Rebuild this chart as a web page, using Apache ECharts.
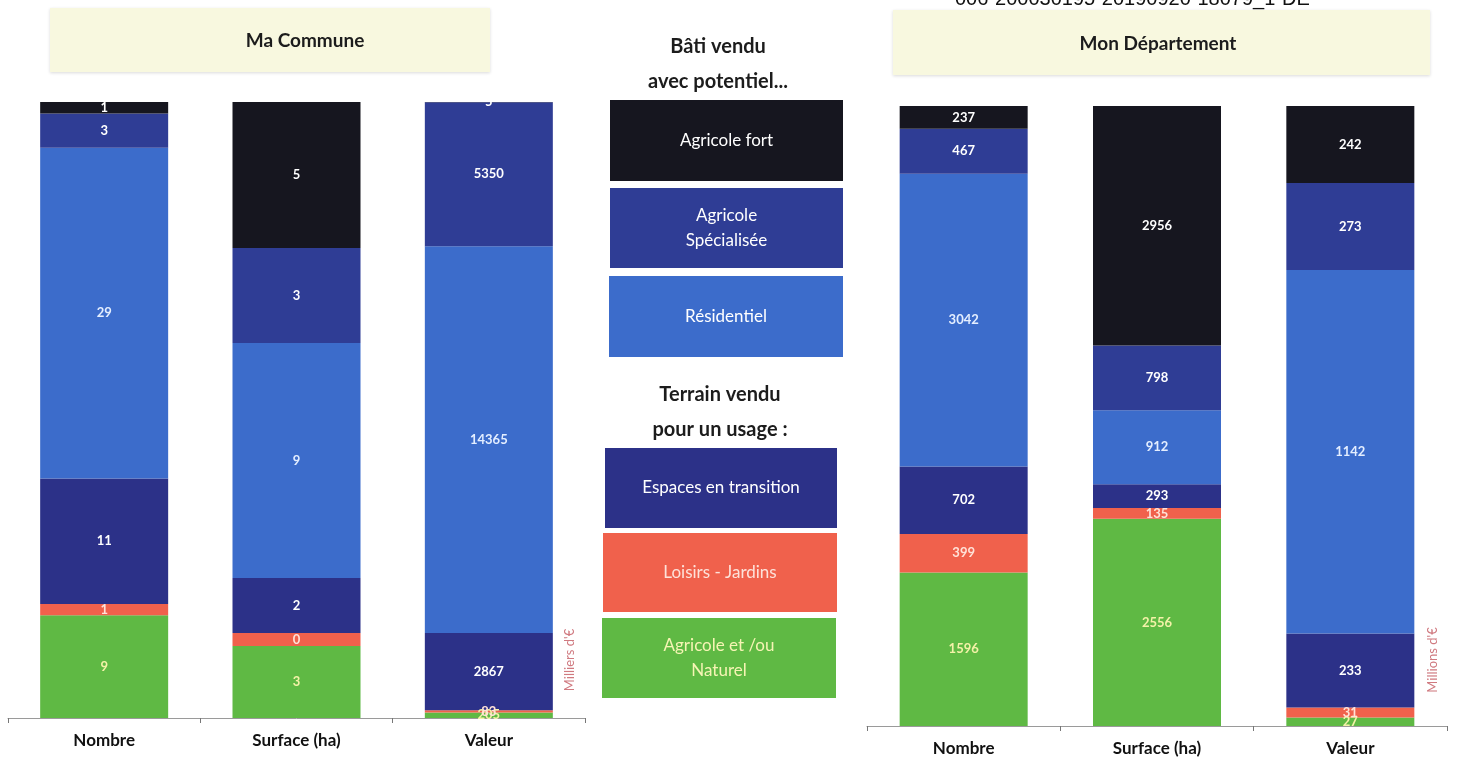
<!DOCTYPE html>
<html>
<head>
<meta charset="utf-8">
<script src="https://cdn.jsdelivr.net/npm/echarts@6/dist/echarts.min.js"></script>
<style>
html,body{margin:0;padding:0;background:#fff;}
#c{width:1457px;height:762px;}
</style>
</head>
<body>
<div id="c"></div>
<script>
// ---- Data ----
const categories = ['Nombre', 'Surface (ha)', 'Valeur'];
// stacking order bottom -> top
const seriesNames = ['Agricole et /ou Naturel', 'Loisirs - Jardins', 'Espaces en transition', 'Résidentiel', 'Agricole Spécialisée', 'Agricole fort'];
// Ma Commune: [Nombre, Surface (ha), Valeur (milliers d'€)]
const communeNaturel     = [9, 2.63, 205];
const communeLoisirs     = [1, 0.47, 83];
const communeTransition  = [11, 2.01, 2867];
const communeResidentiel = [29, 8.58, 14365];
const communeSpecialisee = [3, 3.47, 5350];
const communeFort        = [1, 5.33, 5];
// Mon Département: [Nombre, Surface (ha), Valeur (millions d'€)]
const deptNaturel     = [1596, 2556, 27];
const deptLoisirs     = [399, 135, 31];
const deptTransition  = [702, 293, 233];
const deptResidentiel = [3042, 912, 1142];
const deptSpecialisee = [467, 798, 273];
const deptFort        = [237, 2956, 242];

const communeSeries = [communeNaturel, communeLoisirs, communeTransition, communeResidentiel, communeSpecialisee, communeFort];
const deptSeries = [deptNaturel, deptLoisirs, deptTransition, deptResidentiel, deptSpecialisee, deptFort];

// ---- Styles ----
const colors = ['#5fb944', '#f0614c', '#2c3188', '#3c6ccb', '#2f3d95', '#16161f'];
const labelColors = ['#f4f2a8', '#ffe2d8', '#ffffff', '#e4eeff', '#ffffff', '#ffffff'];
const FONT = 'Lato, "Open Sans", sans-serif';

function totals(arr) {
  return categories.map((_, i) => arr.reduce((s, a) => s + a[i], 0));
}
function buildSeries(arr, axisIdx, stack) {
  const tot = totals(arr);
  return arr.map((vals, k) => ({
    name: seriesNames[k],
    type: 'bar',
    stack: stack,
    xAxisIndex: axisIdx,
    yAxisIndex: axisIdx,
    barWidth: 128,
    itemStyle: { color: colors[k] },
    label: {
      show: true,
      position: 'inside',
      color: labelColors[k],
      fontFamily: FONT,
      fontWeight: 'bold',
      fontSize: 13,
      formatter: p => String(Math.round(vals[p.dataIndex]))
    },
    data: vals.map((v, i) => v / tot[i] * 100)
  }));
}

const chart = echarts.init(document.getElementById('c'), null, { renderer: 'canvas' });

function catAxis(gridIndex) {
  return {
    type: 'category',
    gridIndex: gridIndex,
    data: categories,
    axisLine: { lineStyle: { color: '#9a9a9a', width: 1 } },
    axisTick: { show: true, length: 5, lineStyle: { color: '#777' } },
    axisLabel: { color: '#111', fontFamily: FONT, fontWeight: 'bold', fontSize: 17, margin: 14 }
  };
}
function valAxis(gridIndex) {
  return { type: 'value', gridIndex: gridIndex, min: 0, max: 100, show: false };
}

function legendBox(x, y, w, h, fill, text, textColor) {
  return [
    { type: 'rect', shape: { x: x, y: y, width: w, height: h }, style: { fill: fill } },
    { type: 'text', x: x + w / 2, y: y + h / 2,
      style: { text: text, fill: textColor, font: '17px ' + FONT, align: 'center', verticalAlign: 'middle', lineHeight: 25 } }
  ];
}

const graphics = [].concat(
  [
    { type: 'text', x: 955, y: -11, style: { text: '006-200030195-20190920-18079_1-DE', fill: '#111', font: '20px "Liberation Sans", Arial, sans-serif' } },
    { type: 'rect', shape: { x: 50, y: 8, width: 440, height: 64 }, style: { fill: '#f8f8df', shadowColor: 'rgba(0,0,0,0.15)', shadowBlur: 3, shadowOffsetY: 1 } },
    { type: 'text', x: 305, y: 41, style: { text: 'Ma Commune', fill: '#1c1c1c', font: 'bold 19px ' + FONT, align: 'center', verticalAlign: 'middle' } },
    { type: 'rect', shape: { x: 893, y: 10, width: 537, height: 65 }, style: { fill: '#f8f8df', shadowColor: 'rgba(0,0,0,0.15)', shadowBlur: 3, shadowOffsetY: 1 } },
    { type: 'text', x: 1158, y: 44, style: { text: 'Mon Département', fill: '#1c1c1c', font: 'bold 19px ' + FONT, align: 'center', verticalAlign: 'middle' } },
    { type: 'text', x: 718, y: 47, style: { text: 'Bâti vendu', fill: '#1c1c1c', font: 'bold 20px ' + FONT, align: 'center', verticalAlign: 'middle' } },
    { type: 'text', x: 718, y: 82, style: { text: 'avec potentiel...', fill: '#1c1c1c', font: 'bold 20px ' + FONT, align: 'center', verticalAlign: 'middle' } },
    { type: 'text', x: 720, y: 395, style: { text: 'Terrain vendu', fill: '#1c1c1c', font: 'bold 20px ' + FONT, align: 'center', verticalAlign: 'middle' } },
    { type: 'text', x: 720, y: 430, style: { text: 'pour un usage :', fill: '#1c1c1c', font: 'bold 20px ' + FONT, align: 'center', verticalAlign: 'middle' } },
    { type: 'text', x: 570, y: 660, rotation: Math.PI / 2, style: { text: "Milliers d'€", fill: '#d07a80', font: '13px ' + FONT, align: 'center', verticalAlign: 'middle' } },
    { type: 'text', x: 1433, y: 660, rotation: Math.PI / 2, style: { text: "Millions d'€", fill: '#d07a80', font: '13px ' + FONT, align: 'center', verticalAlign: 'middle' } }
  ],
  legendBox(610, 100, 233, 81, colors[5], seriesNames[5], '#ffffff'),
  legendBox(610, 188, 233, 80, colors[4], 'Agricole\nSpécialisée', '#ffffff'),
  legendBox(609, 276, 234, 81, colors[3], seriesNames[3], '#ffffff'),
  legendBox(605, 448, 232, 80, colors[2], seriesNames[2], '#ffffff'),
  legendBox(603, 533, 234, 79, colors[1], seriesNames[1], '#fde2da'),
  legendBox(602, 618, 234, 80, colors[0], 'Agricole et /ou\nNaturel', '#f6f4b4')
);

chart.setOption({
  animation: false,
  backgroundColor: '#ffffff',
  grid: [
    { left: 8, width: 577, top: 102, height: 616 },
    { left: 867, width: 580, top: 106, height: 620 }
  ],
  xAxis: [catAxis(0), catAxis(1)],
  yAxis: [valAxis(0), valAxis(1)],
  series: buildSeries(communeSeries, 0, 'commune').concat(buildSeries(deptSeries, 1, 'dept')),
  graphic: graphics
});
</script>
</body>
</html>
